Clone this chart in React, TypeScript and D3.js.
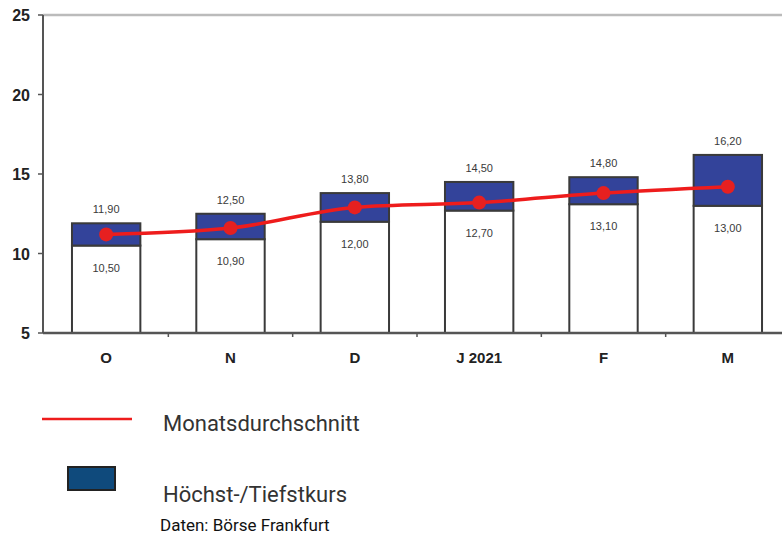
import React, { useEffect, useRef } from 'react'
import * as d3 from 'd3'

const months = ['O', 'N', 'D', 'J 2021', 'F', 'M']
const highs = [11.9, 12.5, 13.8, 14.5, 14.8, 16.2]
const lows = [10.5, 10.9, 12.0, 12.7, 13.1, 13.0]
const averages = [11.2, 11.6, 12.9, 13.2, 13.8, 14.2]
const yTicks = [5, 10, 15, 20, 25]
const legendItems = ['Monatsdurchschnitt', 'Höchst-/Tiefstkurs']
const source = 'Daten: Börse Frankfurt'

const fmt = (v: number) => v.toFixed(2).replace('.', ',')

function App() {
    const ref = useRef<SVGSVGElement>(null)

    useEffect(() => {
        const svg = d3.select(ref.current)
        svg.selectAll('*').remove()

        const width = 782
        const left = 43
        const top = 15
        const bottom = 333

        const x = d3.scaleBand<string>()
            .domain(months)
            .range([left + 1, left + 747])
        const y = d3.scaleLinear()
            .domain([5, 25])
            .range([bottom, top])

        const barW = x.bandwidth() * 0.55
        const cx = (i: number) => (x(months[i]) as number) + x.bandwidth() / 2

        // top line at 25
        svg.append('line')
            .attr('x1', left).attr('x2', width)
            .attr('y1', y(25)).attr('y2', y(25))
            .attr('stroke', '#bbbbbb').attr('stroke-width', 2.5)

        const data = months.map((m, i) => ({ m, i, hi: highs[i], lo: lows[i], avg: averages[i] }))

        // white lower part
        svg.selectAll('rect.low')
            .data(data)
            .enter()
            .append('rect')
            .attr('class', 'low')
            .attr('x', d => cx(d.i) - barW / 2)
            .attr('y', d => y(d.lo))
            .attr('width', barW)
            .attr('height', d => y(5) - y(d.lo))
            .attr('fill', '#ffffff')
            .attr('stroke', '#3a3a3a')
            .attr('stroke-width', 2)

        // blue high-low range
        svg.selectAll('rect.range')
            .data(data)
            .enter()
            .append('rect')
            .attr('class', 'range')
            .attr('x', d => cx(d.i) - barW / 2)
            .attr('y', d => y(d.hi))
            .attr('width', barW)
            .attr('height', d => y(d.lo) - y(d.hi))
            .attr('fill', '#33439a')
            .attr('stroke', '#3a3a3a')
            .attr('stroke-width', 2)

        // x axis
        svg.append('line')
            .attr('x1', left).attr('x2', width)
            .attr('y1', bottom).attr('y2', bottom)
            .attr('stroke', '#555555').attr('stroke-width', 2.5)

        months.slice(1).forEach(m => {
            const bx = x(m) as number
            svg.append('line')
                .attr('x1', bx).attr('x2', bx)
                .attr('y1', bottom).attr('y2', bottom + 4)
                .attr('stroke', '#555555').attr('stroke-width', 1.5)
        })

        svg.selectAll('text.xlab')
            .data(data)
            .enter()
            .append('text')
            .attr('class', 'xlab')
            .attr('x', d => cx(d.i))
            .attr('y', 363)
            .attr('text-anchor', 'middle')
            .style('font-family', 'Liberation Sans, Arial, sans-serif')
            .style('font-weight', 'bold')
            .style('font-size', '15px')
            .attr('fill', '#222222')
            .text(d => d.m)

        // y axis
        svg.append('line')
            .attr('x1', left).attr('x2', left)
            .attr('y1', top).attr('y2', bottom)
            .attr('stroke', '#555555').attr('stroke-width', 2)

        yTicks.forEach(t => {
            svg.append('line')
                .attr('x1', left - 5).attr('x2', left)
                .attr('y1', y(t)).attr('y2', y(t))
                .attr('stroke', '#555555').attr('stroke-width', 1.5)
            svg.append('text')
                .attr('x', 30)
                .attr('y', y(t) + 6)
                .attr('text-anchor', 'end')
                .style('font-family', 'Liberation Sans, Arial, sans-serif')
                .style('font-weight', 'bold')
                .style('font-size', '16px')
                .attr('fill', '#222222')
                .text(t)
        })

        // value labels
        svg.selectAll('text.hi')
            .data(data)
            .enter()
            .append('text')
            .attr('class', 'hi')
            .attr('x', d => cx(d.i))
            .attr('y', d => y(d.hi) - 10)
            .attr('text-anchor', 'middle')
            .style('font-family', 'Liberation Sans, Arial, sans-serif')
            .style('font-size', '11px')
            .attr('fill', '#3a3a3a')
            .text(d => fmt(d.hi))

        svg.selectAll('text.lo')
            .data(data)
            .enter()
            .append('text')
            .attr('class', 'lo')
            .attr('x', d => cx(d.i))
            .attr('y', d => y(d.lo) + 26)
            .attr('text-anchor', 'middle')
            .style('font-family', 'Liberation Sans, Arial, sans-serif')
            .style('font-size', '11px')
            .attr('fill', '#3a3a3a')
            .text(d => fmt(d.lo))

        // average line
        const line = d3.line<typeof data[0]>()
            .x(d => cx(d.i))
            .y(d => y(d.avg))
            .curve(d3.curveMonotoneX)

        svg.append('path')
            .datum(data)
            .attr('d', line)
            .attr('fill', 'none')
            .attr('stroke', '#ee1c1c')
            .attr('stroke-width', 3.5)

        svg.selectAll('circle')
            .data(data)
            .enter()
            .append('circle')
            .attr('cx', d => cx(d.i))
            .attr('cy', d => y(d.avg))
            .attr('r', 7)
            .attr('fill', '#e62020')

        // legend
        svg.append('line')
            .attr('x1', 42).attr('x2', 132)
            .attr('y1', 419).attr('y2', 419)
            .attr('stroke', '#ee1c1c').attr('stroke-width', 2.5)
        svg.append('rect')
            .attr('x', 68).attr('y', 467)
            .attr('width', 47).attr('height', 23)
            .attr('fill', '#0f4a7c')
            .attr('stroke', '#222222').attr('stroke-width', 2)

        legendItems.forEach((t, i) => {
            svg.append('text')
                .attr('x', 163)
                .attr('y', i === 0 ? 431 : 502)
                .style('font-family', 'Roboto, sans-serif')
                .style('font-size', '22px')
                .attr('fill', '#333333')
                .text(t)
        })

        svg.append('text')
            .attr('x', 160)
            .attr('y', 531)
            .style('font-family', 'Roboto, sans-serif')
            .style('font-size', '17px')
            .attr('fill', '#111111')
            .text(source)
    }, [])

    return (
        <svg ref={ref} width={782} height={538}
            style={{ position: 'absolute', left: 0, top: 0, background: '#ffffff' }} />
    )
}

export default App
